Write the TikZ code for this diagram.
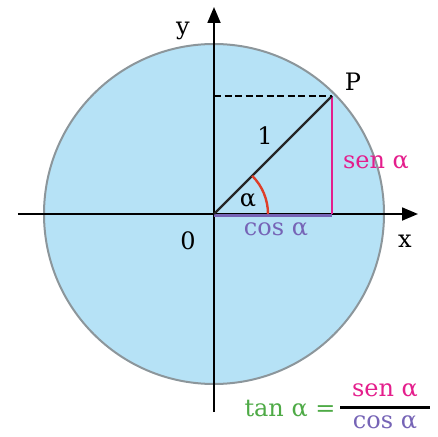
\documentclass[tikz,border=0pt]{standalone}
\usepackage{fontspec}
\setmainfont{DejaVu Serif}
\usepackage{tikz}
\usetikzlibrary{arrows.meta, positioning, calc}
\definecolor{discblue}{RGB}{182,226,246}
\definecolor{discrim}{RGB}{140,150,155}
\definecolor{senpink}{RGB}{228,30,140}
\definecolor{cospurple}{RGB}{118,100,182}
\definecolor{tangreen}{RGB}{78,170,70}
\definecolor{arcred}{RGB}{222,62,40}

\begin{document}
\begin{tikzpicture}[
  x=1pt, y=1pt,
  every node/.style={font=\fontsize{24}{28}\selectfont},
  axis/.style={line width=1.8pt, -{Triangle[length=16pt,width=13pt]}},
  lbl/.style={inner sep=1pt},
  seg/.style={line width=2.2pt},
]
\useasboundingbox (-214,-222) rectangle (224,214);

% ── disc ──
\coordinate (O) at (0,0);
\coordinate (P) at (45:167);
\coordinate (Px) at (P |- O);
\coordinate (Py) at (P -| O);
\fill[discblue, draw=discrim, line width=2pt] (O) circle (170);

% ── axes ──
\coordinate (xl) at (-196,0);
\coordinate (xr) at (204,0);
\coordinate (yb) at (0,-198);
\coordinate (yt) at (0,207);
\draw[axis] (xl) -- (xr);
\draw[axis] (yb) -- (yt);

% ── triangle ──
\draw[seg, cospurple] ($(O)+(0,-1.5)$) -- ($(Px)+(0,-1.5)$);
\draw[seg, senpink] (P) -- (Px);
\draw[seg, black!85] (O) -- (P);
\draw[line width=1.8pt, dash pattern=on 7pt off 3.5pt] (Py) -- (P);
\draw[line width=2.4pt, arcred] (54,0) arc[start angle=0, end angle=45, radius=54];

% ── labels ──
\node[lbl] (ylab) at (-31,183) {y};
\node[lbl] (xlab) at (191,-27) {x};
\node[lbl] (zero) at (-26,-27) {0};
\node[lbl] (plab) at (139,132) {P};
\node[lbl] (one) at (51,78) {1};
\node[lbl] (alab) at (34,14) {α};
\node[lbl, senpink] (sen) at (162,51) {sen α};
\node[lbl, cospurple] (cos) at (62,-15) {cos α};

% ── formula ──
\node[lbl, tangreen] (tan) at (76,-195) {tan α =};
\node[lbl, senpink] (num) at (171,-176) {sen α};
\node[lbl, cospurple] (den) at (171,-208) {cos α};
\coordinate (fl) at (126,-193);
\coordinate (fr) at (216,-193);
\draw[line width=3pt] (fl) -- (fr);
\end{tikzpicture}
\end{document}
